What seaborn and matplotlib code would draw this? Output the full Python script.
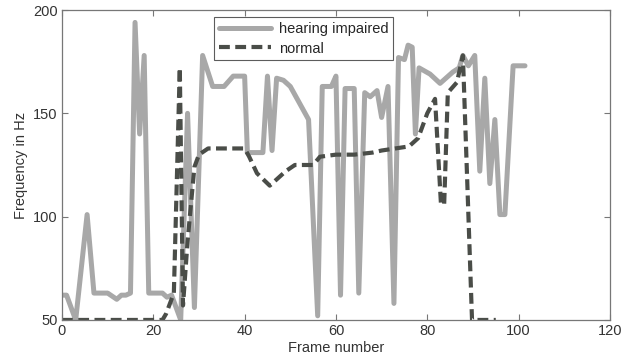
import numpy as np
import pandas as pd
import matplotlib
matplotlib.use("Agg")
import matplotlib.pyplot as plt
import seaborn as sns

# === data ===
impaired_frame = [0, 1, 3, 5.5, 7, 10, 12, 13, 14, 15, 16, 17, 18, 19, 22, 23, 24, 26,
                  27.5, 29, 30.8, 33, 35.5, 37.5, 40, 40.6, 44, 45, 46, 47, 48.5, 50, 54,
                  56, 57, 59, 60, 61, 62, 64, 65, 66.3, 67.5, 69, 70, 71.4, 72.7, 73.7,
                  75, 75.8, 76.7, 77.4, 78.2, 80.6, 82.8, 85.6, 87, 87.8, 89, 90.4, 91.5,
                  92.6, 93.7, 94.8, 95.9, 97, 98.8, 101.4]
impaired_hz = [62, 62, 50, 101, 63, 63, 60, 62, 62, 63, 194, 140, 178, 63, 63, 61, 62, 50,
               150, 56, 178, 163, 163, 168, 168, 131, 131, 168, 132, 167, 166, 163, 147,
               52, 163, 163, 168, 62, 162, 162, 63, 160, 158, 161, 148, 163, 58, 177,
               176, 183, 182, 140, 172, 169, 164.5, 170, 172, 178, 173, 178, 122,
               167, 116, 147, 101, 101, 173, 173]

normal_frame = [0, 22, 22.8, 24.5, 25.8, 26.5, 27.5, 29, 30, 32, 40, 41, 42.7, 45.5, 47,
                49, 51, 55, 56.5, 60, 64, 68, 70, 73, 76, 78, 80, 81.7, 83, 83.7, 84.5,
                86.5, 87.8, 89.8, 95]
normal_hz = [50, 50, 53, 63, 172, 57, 88, 124, 130, 133, 133, 129, 121, 115, 118,
             122, 125, 125, 129, 130, 130, 131, 132, 133, 134, 138, 150, 157, 106, 106,
             160, 165, 178, 50, 50]

impaired = pd.DataFrame({"frame": impaired_frame, "hz": impaired_hz})
normal = pd.DataFrame({"frame": normal_frame, "hz": normal_hz})

# === plot ===
sns.set_style("white")
plt.rcParams["font.family"] = ["Liberation Sans", "DejaVu Sans"]

fig = plt.figure(figsize=(6.23, 3.64), dpi=100)
ax = fig.add_axes([0.0995, 0.121, 0.8795, 0.8515])

sns.lineplot(data=impaired, x="frame", y="hz", ax=ax, color="#a8a8a8", lw=3.6,
             estimator=None, sort=False, label="hearing impaired")
sns.lineplot(data=normal, x="frame", y="hz", ax=ax, color="#4a4d48", lw=3.0,
             estimator=None, sort=False, label="normal", dashes=(2.6, 1.3))

ax.set_xlim(0, 120)
ax.set_ylim(50, 200)
ax.set_xticks(range(0, 121, 20))
ax.set_yticks([50, 100, 150, 200])
ax.set_xlabel("Frame number", fontsize=10.5, color="#333333", labelpad=2)
ax.set_ylabel("Frequency in Hz", fontsize=10.5, color="#333333", labelpad=4)
ax.tick_params(direction="in", bottom=True, left=True, top=True, right=True,
               length=4, width=0.8, labelsize=10.5, labelcolor="#333333",
               color="#777777", pad=3)
for s in ax.spines.values():
    s.set_color("#777777")
    s.set_linewidth(0.9)

leg = ax.legend(loc="upper left", bbox_to_anchor=(0.265, 1.0), frameon=True,
                fancybox=False, edgecolor="#333333", fontsize=10.5, handlelength=3.6,
                borderpad=0.3, labelspacing=0.4, handletextpad=0.5)
leg.get_frame().set_linewidth(0.8)

fig.savefig("out.png", dpi=100)
